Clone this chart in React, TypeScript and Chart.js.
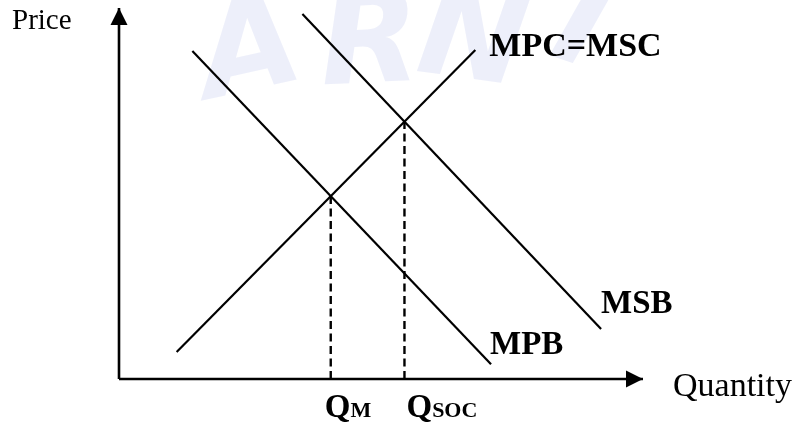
import React, { useEffect, useRef } from "react";
import { Chart, registerables } from "chart.js";

Chart.register(...registerables);

// ---- data (economic units) ----
const xRange = [0, 10];
const yRange = [0, 10];
const mpcLine = [
  { x: 1.1, y: 0.73 },
  { x: 6.8, y: 8.87 },
];
const mpbLine = [
  { x: 1.4, y: 8.84 },
  { x: 7.1, y: 0.4 },
];
const msbLine = [
  { x: 3.5, y: 9.84 },
  { x: 9.2, y: 1.35 },
];
const curveLabels = ["MPC=MSC", "MPB", "MSB"];
const axisTitles = ["Quantity", "Price"];
const quantityLabels = [
  ["Q", "M"],
  ["Q", "SOC"],
];
const watermarkLetters = ["A", "R", "N", "I"];

type P = { x: number; y: number };

function intersect(a: P[], b: P[]): P {
  const [p1, p2] = a;
  const [p3, p4] = b;
  const d = (p1.x - p2.x) * (p3.y - p4.y) - (p1.y - p2.y) * (p3.x - p4.x);
  const t = ((p1.x - p3.x) * (p3.y - p4.y) - (p1.y - p3.y) * (p3.x - p4.x)) / d;
  return { x: p1.x + t * (p2.x - p1.x), y: p1.y + t * (p2.y - p1.y) };
}

const SERIF = "'Liberation Serif', 'Times New Roman', serif";

export default function App() {
  const ref = useRef<HTMLCanvasElement | null>(null);

  useEffect(() => {
    if (!ref.current) return;
    const qm = intersect(mpcLine, mpbLine);
    const qs = intersect(mpcLine, msbLine);

    const solid = (data: P[], w = 2.2) => ({
      data,
      showLine: true,
      borderColor: "#000",
      borderWidth: w,
      pointRadius: 0,
      pointHoverRadius: 0,
      fill: false,
      clip: false as any,
      tension: 0,
    });
    const dashed = (q: P) => ({
      ...solid(
        [
          { x: q.x, y: yRange[0] },
          { x: q.x, y: q.y },
        ],
        2.4
      ),
      borderDash: [8, 4.5],
    });

    const plugin = {
      id: "econ",
      beforeDatasetsDraw(chart: any) {
        const ctx = chart.ctx as CanvasRenderingContext2D;
        ctx.save();
        ctx.fillStyle = "rgba(205,212,242,0.36)";
        ctx.font = "bold italic 130px 'DejaVu Sans', sans-serif";
        ctx.textAlign = "center";
        ctx.textBaseline = "alphabetic";
        const pos = [
          [258, 88, -0.22],
          [372, 82, -0.05],
          [468, 78, 0.14],
          [570, 62, 0.32],
        ];
        watermarkLetters.forEach((l, i) => {
          const [x, y, r] = pos[i];
          ctx.save();
          ctx.translate(x, y);
          ctx.rotate(r);
          ctx.fillText(l, 0, 0);
          ctx.restore();
        });
        ctx.restore();
      },
      afterDatasetsDraw(chart: any) {
        const ctx = chart.ctx as CanvasRenderingContext2D;
        const xs = chart.scales.x;
        const ys = chart.scales.y;
        const px = (v: number) => xs.getPixelForValue(v);
        const py = (v: number) => ys.getPixelForValue(v);
        ctx.save();
        ctx.fillStyle = "#000";
        // arrowheads
        const ox = px(xRange[0]);
        const oy = py(yRange[0]);
        const tipY = py(yRange[1]);
        const tipX = px(xRange[1]);
        ctx.beginPath();
        ctx.moveTo(ox, tipY);
        ctx.lineTo(ox - 8.5, tipY + 17);
        ctx.lineTo(ox + 8.5, tipY + 17);
        ctx.closePath();
        ctx.fill();
        ctx.beginPath();
        ctx.moveTo(tipX, oy);
        ctx.lineTo(tipX - 17, oy - 8.5);
        ctx.lineTo(tipX - 17, oy + 8.5);
        ctx.closePath();
        ctx.fill();

        ctx.textBaseline = "alphabetic";
        ctx.textAlign = "left";
        // axis titles
        ctx.font = `34px ${SERIF}`;
        ctx.fillText(axisTitles[0], tipX + 30, oy + 17);
        ctx.font = `29px ${SERIF}`;
        ctx.fillText(axisTitles[1], ox - 107, tipY + 21);

        // curve labels
        ctx.font = `bold 34px ${SERIF}`;
        ctx.fillText(curveLabels[0], px(mpcLine[1].x) + 14, py(mpcLine[1].y) + 6);
        ctx.font = `bold 33px ${SERIF}`;
        ctx.fillText(curveLabels[1], px(mpbLine[1].x) - 1, py(mpbLine[1].y) - 10);
        ctx.fillText(curveLabels[2], px(msbLine[1].x), py(msbLine[1].y) - 16);

        // quantity labels
        const drawQ = (lab: string[], x: number) => {
          ctx.font = `bold 33px ${SERIF}`;
          ctx.fillText(lab[0], x, oy + 38);
          const w = ctx.measureText(lab[0]).width;
          ctx.font = `bold 22px ${SERIF}`;
          ctx.fillText(lab[1], x + w, oy + 38);
        };
        drawQ(quantityLabels[0], px(qm.x) - 6);
        drawQ(quantityLabels[1], px(qs.x) + 2);
        ctx.restore();
      },
    };

    const chart = new Chart(ref.current, {
      type: "scatter",
      data: {
        datasets: [
          solid(
            [
              { x: xRange[0], y: yRange[0] },
              { x: xRange[1], y: yRange[0] },
            ],
            2.6
          ),
          solid(
            [
              { x: xRange[0], y: yRange[0] },
              { x: xRange[0], y: yRange[1] },
            ],
            2.6
          ),
          solid(mpcLine),
          solid(mpbLine),
          solid(msbLine),
          dashed(qm),
          dashed(qs),
        ] as any,
      },
      options: {
        animation: false,
        responsive: false,
        events: [],
        layout: { padding: { left: 119, right: 153, top: 8, bottom: 44 } },
        plugins: { legend: { display: false }, tooltip: { enabled: false } },
        scales: {
          x: { type: "linear", display: false, min: xRange[0], max: xRange[1] },
          y: { type: "linear", display: false, min: yRange[0], max: yRange[1] },
        },
      },
      plugins: [plugin],
    });
    return () => chart.destroy();
  }, []);

  return (
    <div style={{ position: "absolute", left: 0, top: 0, width: 796, height: 423, background: "#fff" }}>
      <canvas ref={ref} width={796} height={423} style={{ display: "block" }} />
    </div>
  );
}
